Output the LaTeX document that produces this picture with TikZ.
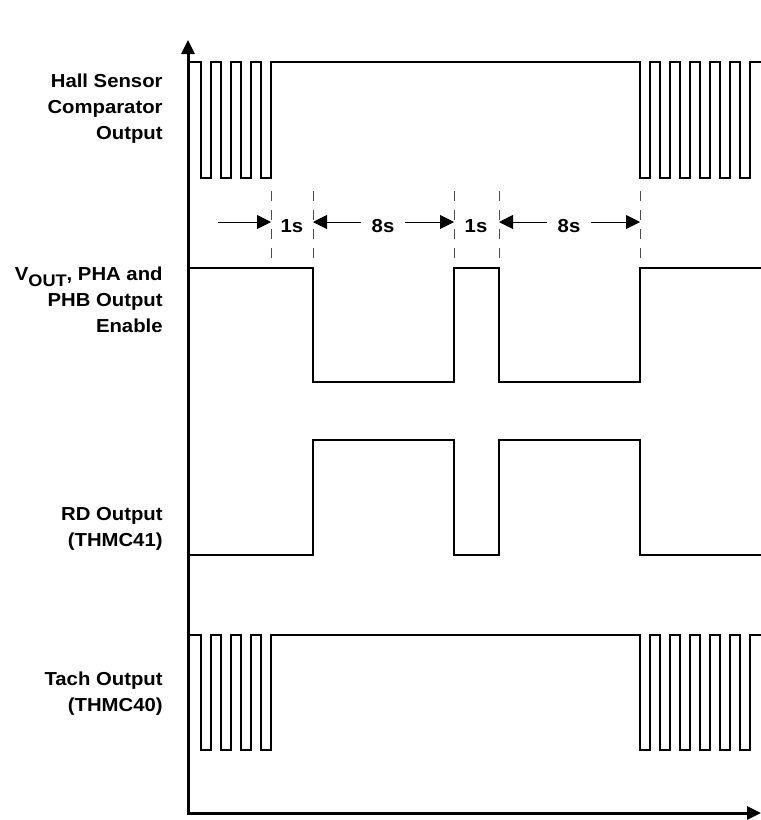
\documentclass[tikz,border=0pt]{standalone}
\usepackage{fontspec}
\setmainfont{Liberation Sans}[FakeStretch=1.08]
\usetikzlibrary{arrows.meta}

\tikzset{
  sig/.style={line width=1pt, line join=miter},
  axis/.style={line width=1.5pt, {Triangle[length=7pt,width=6.5pt]}-{Triangle[length=7pt,width=6.5pt]}},
  guide/.style={gray!60!black, line width=0.5pt, dash pattern=on 5pt off 4.5pt},
  dim/.style={line width=0.5pt, -{Triangle[length=7pt,width=7pt]}},
  lbl/.style={anchor=east, align=right, inner sep=0pt, font=\bfseries\fontsize{9.4}{13}\selectfont},
  dimtxt/.style={inner xsep=5pt, inner ysep=0pt, font=\bfseries\fontsize{9.4}{11}\selectfont}
}

\begin{document}
\begin{tikzpicture}[x=0.5pt,y=-0.5pt]
\useasboundingbox (0,0) rectangle (761,820);
% axes
\draw[axis] (188,40)--(188,813)--(761,813);
% hall sensor comparator
\draw[sig] (189,62) \foreach \x in {201,221,241,261}{--(\x,62)--(\x,178)--({\x+10},178)--({\x+10},62)}
 \foreach \x in {640,660,...,740}{--(\x,62)--(\x,178)--({\x+10},178)--({\x+10},62)}--(761,62);
% vout enable
\draw[sig] (189,268)--(313,268)--(313,382)--(454,382)--(454,268)--(499,268)--(499,382)--(640,382)--(640,268)--(761,268);
% rd output
\draw[sig] (189,555)--(313,555)--(313,440)--(454,440)--(454,555)--(499,555)--(499,440)--(640,440)--(640,555)--(761,555);
% tach output
\draw[sig] (189,635) \foreach \x in {201,221,241,261}{--(\x,635)--(\x,750)--({\x+10},750)--({\x+10},635)}
 \foreach \x in {640,660,...,740}{--(\x,635)--(\x,750)--({\x+10},750)--({\x+10},635)}--(761,635);
% timing marks
\foreach \x/\n in {271/1,313/2,454/3,499/4,640/5}{
  \draw[guide] (\x,191)--(\x,258);
  \coordinate (g\n) at (\x,222);
}
\coordinate (a0) at (218,222);
\node[dimtxt] (t1) at (292,226) {1s};
\node[dimtxt] (t2) at (383,226) {8s};
\node[dimtxt] (t3) at (476,226) {1s};
\node[dimtxt] (t4) at (569,226) {8s};
\draw[dim] (a0)--(g1);
\draw[dim] (t2.west |- g2)--(g2);
\draw[dim] (t2.east |- g3)--(g3);
\draw[dim] (t4.west |- g4)--(g4);
\draw[dim] (t4.east |- g5)--(g5);
% labels
\node[lbl] (hall) at (163,109) {Hall Sensor\\Comparator\\Output};
\node[lbl] (vout) at (163,300) {V\raisebox{-3pt}{\fontsize{8.4}{9}\selectfont OUT}, PHA and\\PHB Output\\Enable};
\node[lbl] (rd) at (163,529) {RD Output\\(THMC41)};
\node[lbl] (tach) at (163,694) {Tach Output\\(THMC40)};
\end{tikzpicture}
\end{document}
